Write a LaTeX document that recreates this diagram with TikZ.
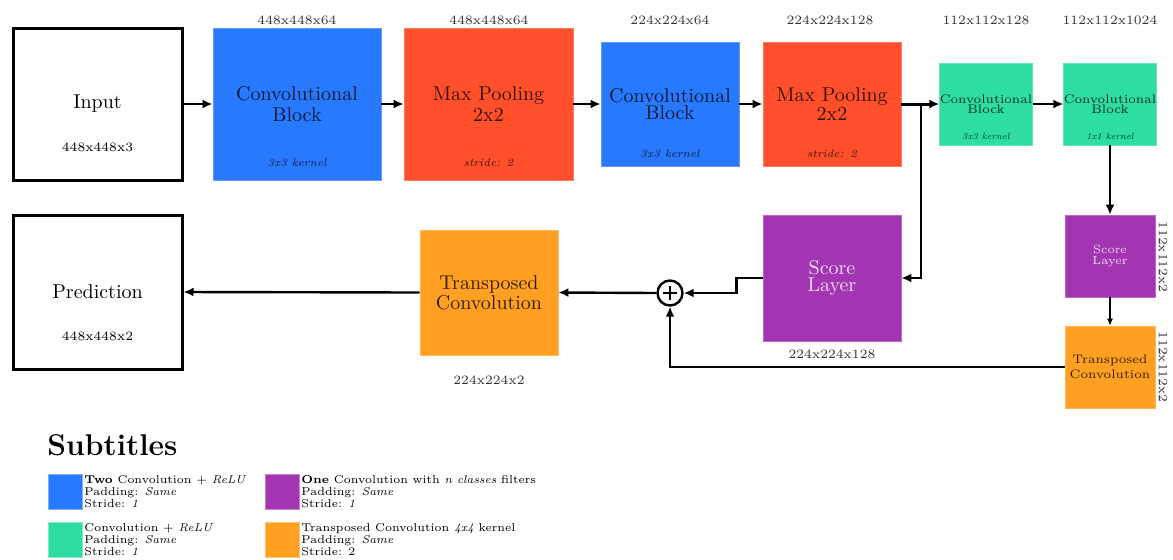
\documentclass[tikz,border=0pt]{standalone}
\usetikzlibrary{arrows.meta,calc}
\definecolor{cblue}{RGB}{41,121,255}
\definecolor{cred}{RGB}{255,80,43}
\definecolor{cgreen}{RGB}{46,222,160}
\definecolor{cpurple}{RGB}{163,53,179}
\definecolor{corange}{RGB}{255,160,34}
\begin{document}
\begin{tikzpicture}[x=0.5pt,y=-0.5pt,
  blk/.style={rectangle, inner sep=0pt, draw=#1!75!white, line width=0.4pt, fill=#1, align=center, text=black, text opacity=0.8},
  wbox/.style={rectangle, inner sep=0pt, draw=black, line width=1.5pt, fill=white, align=center, font=\fontsize{10}{10}\selectfont},
  dimlbl/.style={font=\fontsize{6.4}{8}\selectfont, text=black!80, inner sep=0pt},
  sublbl/.style={font=\itshape\fontsize{5.6}{8}\selectfont, text=black, text opacity=0.75, inner sep=0pt},
  conn/.style={line width=1.2pt, -{Latex[length=5pt,width=4.5pt]}},
  legsq/.style={rectangle, inner sep=0pt, minimum width=17pt, minimum height=17.5pt, draw=#1!60!white, line width=0.4pt, fill=#1},
  legtxt/.style={anchor=north west, inner sep=0pt, align=left, font=\fontsize{5.7}{6}\selectfont}
]
\useasboundingbox (0,0) rectangle (1173,559);

% top row
\node[wbox, minimum width=84.5pt, minimum height=76pt] (input) at (97.5,104) {Input};
\node[blk=cblue, minimum width=84pt, minimum height=76pt, font=\fontsize{10}{10.5}\selectfont] (conv1) at (297,104) {Convolutional\\Block};
\node[blk=cred, minimum width=84.5pt, minimum height=76pt, font=\fontsize{10}{10.5}\selectfont] (mp1) at (488.5,104) {Max Pooling\\2x2};
\node[blk=cblue, minimum width=69pt, minimum height=62pt, font=\fontsize{10}{8.5}\selectfont] (conv2) at (670,104) {Convolutional\\Block};
\node[blk=cred, minimum width=69pt, minimum height=62pt, font=\fontsize{10}{8.5}\selectfont] (mp2) at (832,104) {Max Pooling\\2x2};
\node[blk=cgreen, minimum width=45pt, minimum height=41pt, font=\fontsize{6.2}{5}\selectfont] (conv3) at (986,104) {Convolutional\\Block};
\node[blk=cgreen, minimum width=45pt, minimum height=41pt, font=\fontsize{6.2}{5}\selectfont] (conv4) at (1110,104) {Convolutional\\Block};

% right column
\node[blk=cpurple, text=white, text opacity=0.82, minimum width=45pt, minimum height=41pt, font=\fontsize{5.9}{5.6}\selectfont] (score2) at (1110,256) {Score\\Layer};
\node[blk=corange, minimum width=45pt, minimum height=41pt, font=\fontsize{6.2}{7.5}\selectfont] (tconv2) at (1110,367) {Transposed\\Convolution};

% bottom row
\node[blk=cpurple, text=white, text opacity=0.82, minimum width=69pt, minimum height=63pt, font=\fontsize{10}{8.5}\selectfont] (score1) at (832,278) {Score\\Layer};
\node[circle, draw, line width=1.2pt, fill=white, minimum size=12.5pt, inner sep=0pt] (plus) at (670,293) {};
\draw[line width=1.2pt] ($(plus.center)+(-7,0)$) -- ($(plus.center)+(7,0)$);
\draw[line width=1.2pt] ($(plus.center)+(0,-7)$) -- ($(plus.center)+(0,7)$);
\node[blk=corange, minimum width=69pt, minimum height=62.5pt, font=\fontsize{10}{8}\selectfont] (tconv1) at (489,292.5) {Transposed\\Convolution};
\node[wbox, minimum width=84.5pt, minimum height=77pt] (pred) at (97.5,292) {Prediction};

% inner sub labels
\node[dimlbl, text=black] (inputd) at (97.5,147) {448x448x3};
\node[dimlbl, text=black] (predd) at (97.5,336) {448x448x2};
\node[sublbl] (conv1k) at (297,163) {3x3 kernel};
\node[sublbl] (mp1k) at (488.5,163) {stride: 2};
\node[sublbl] (conv2k) at (670,154) {3x3 kernel};
\node[sublbl] (mp2k) at (832,154) {stride: 2};
\node[sublbl, font=\itshape\fontsize{4.5}{6}\selectfont] (conv3k) at (986,136) {3x3 kernel};
\node[sublbl, font=\itshape\fontsize{4.5}{6}\selectfont] (conv4k) at (1110,136) {1x1 kernel};

% dimension labels
\node[dimlbl] (d1) at (297,20) {448x448x64};
\node[dimlbl] (d2) at (489,20) {448x448x64};
\node[dimlbl] (d3) at (670,20) {224x224x64};
\node[dimlbl] (d4) at (830,20) {224x224x128};
\node[dimlbl] (d5) at (986,20) {112x112x128};
\node[dimlbl] (d6) at (1110,20) {112x112x1024};
\node[dimlbl] (d7) at (832,354) {224x224x128};
\node[dimlbl] (d8) at (489,380) {224x224x2};
\node[dimlbl, rotate=-90] (d9) at (1163,257) {112x112x2};
\node[dimlbl, rotate=-90] (d10) at (1163,367) {112x112x2};

% connectors
\draw[conn] (input.east) -- (conv1.west);
\draw[conn] (conv1.east) -- (mp1.west);
\draw[conn] (mp1.east) -- (conv2.west);
\draw[conn] (conv2.east) -- (mp2.west);
\draw[conn, line width=1.5pt] (mp2.east) -- (conv3.west);
\draw[conn] (conv3.east) -- (conv4.west);
\coordinate (br) at (921,104);
\draw[conn] (br) |- (score1.east);
\draw[conn] (conv4.south) -- (score2.north);
\draw[line width=0.6pt, -{Latex[length=3.5pt,width=3pt]}] (score2.south) -- (tconv2.north);
\draw[conn] (tconv2.west) -| (plus.south);
\draw[conn] (score1.west) -- ++(-26,0) |- (plus.east);
\draw[conn] (plus.west) -- (tconv1.east);
\draw[conn] (tconv1.west) -- (pred.east);

% legend
\node[anchor=base west, inner sep=0pt, font=\bfseries\fontsize{15}{15}\selectfont] (legt) at (47,455) {Subtitles};
\node[legsq=cblue] (lg1) at (65,491.5) {};
\node[legtxt] (lg1t) at (84,475) {\textbf{Two} Convolution + \textit{ReLU}\\Padding: \textit{Same}\\Stride: \textit{1}};
\node[legsq=cpurple] (lg2) at (282,491.5) {};
\node[legtxt] (lg2t) at (301,475) {\textbf{One} Convolution with \textit{n classes} filters\\Padding: \textit{Same}\\Stride: \textit{1}};
\node[legsq=cgreen] (lg3) at (65,539.5) {};
\node[legtxt] (lg3t) at (84,523) {Convolution + \textit{ReLU}\\Padding: \textit{Same}\\Stride: \textit{1}};
\node[legsq=corange] (lg4) at (282,539.5) {};
\node[legtxt] (lg4t) at (301,523) {Transposed Convolution \textit{4x4} kernel\\Padding: \textit{Same}\\Stride: 2};
\end{tikzpicture}
\end{document}
